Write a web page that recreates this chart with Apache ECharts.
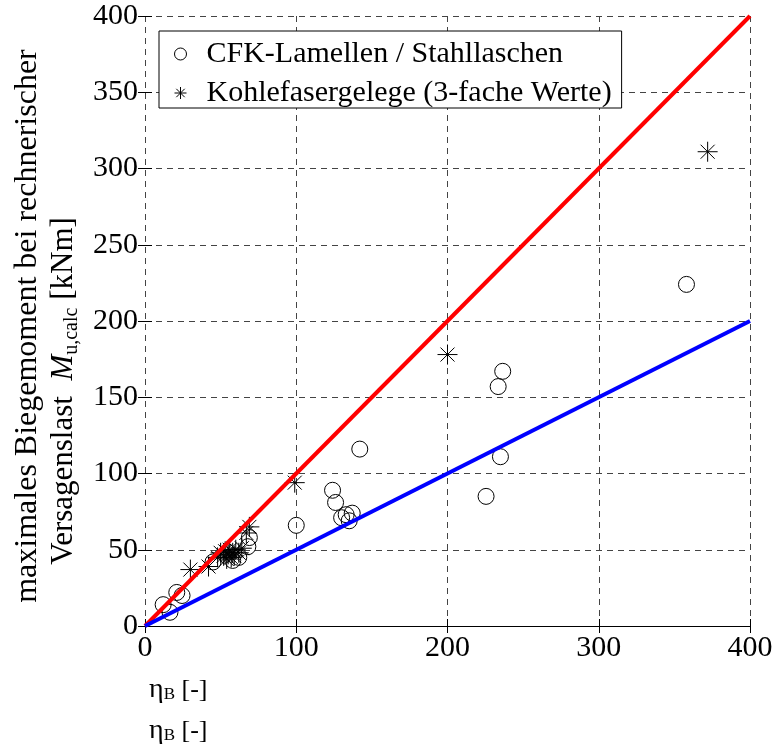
<!DOCTYPE html>
<html>
<head>
<meta charset="utf-8">
<script src="https://cdn.jsdelivr.net/npm/echarts@6/dist/echarts.min.js"></script>
<style>
  html, body { margin: 0; padding: 0; background: #fff; }
  #chart { width: 776px; height: 744px; }
</style>
</head>
<body>
<div id="chart"></div>
<script>
// Measured values: eta_B vs. M_u,calc
const cfkPoints = [
  [12, 14], [16.5, 9], [21, 22], [24.5, 20],
  [45, 42], [58, 43], [62, 45], [68, 52], [69, 58],
  [100, 66], [124, 89], [126, 81], [130, 71], [133, 73], [135, 69], [137, 74],
  [142, 116], [225.5, 85], [233.5, 157], [235, 111], [236.5, 167], [358, 224]
];
const gelegePoints = [
  [30, 37], [42, 39], [48, 45], [50, 48], [52, 46], [53, 49], [54, 44], [55, 47],
  [56, 50], [57, 45], [58, 48], [59, 46], [60, 50], [62, 48], [64, 51], [67, 61],
  [69, 65], [99, 94], [200, 178], [372, 311]
];
// Reference lines M = eta and M = eta / 2
const upperLine = [[0, 0], [400, 400]];
const lowerLine = [[0, 0], [400, 200]];

const xTicks = { min: 0, max: 400, interval: 100 };
const yTicks = { min: 0, max: 400, interval: 50 };

const seriesNames = ['CFK-Lamellen / Stahllaschen', 'Kohlefasergelege (3-fache Werte)'];

const SERIF = '"Liberation Serif", "DejaVu Serif", serif';
const starPath = 'path://M10,0L10,20M0,10L20,10M3,3L17,17M3,17L17,3';

const chart = echarts.init(document.getElementById('chart'), null, { renderer: 'canvas' });

const gridLine = { show: true, lineStyle: { color: '#444', type: [6, 5], width: 1 } };
const tickInside = { show: true, inside: true, length: 7, lineStyle: { color: '#000' } };

const etaLabel = (y) => ({
  type: 'text', x: 149, y: y,
  style: {
    text: '{e|η}{b|B}{n| [-]}',
    fontFamily: SERIF, fontSize: 26, fill: '#000',
    align: 'left', verticalAlign: 'middle',
    rich: {
      e: { fontFamily: SERIF, fontSize: 28, verticalAlign: 'middle' },
      b: { fontFamily: SERIF, fontSize: 17, verticalAlign: 'middle', padding: [9, 0, 0, 0] },
      n: { fontFamily: SERIF, fontSize: 26, verticalAlign: 'middle' }
    }
  }
});

chart.setOption({
  animation: false,
  backgroundColor: '#fff',
  grid: { left: 145, right: 26, top: 16, bottom: 118 },
  legend: {
    orient: 'vertical',
    left: 159, top: 31,
    padding: [8, 10, 0, 15],
    itemGap: 9,
    itemWidth: 42, itemHeight: 12,
    backgroundColor: '#fff',
    borderColor: '#000', borderWidth: 1, borderRadius: 0,
    textStyle: { fontFamily: SERIF, fontSize: 30, color: '#000', lineHeight: 26 },
    data: [
      { name: seriesNames[0], icon: 'circle', itemStyle: { color: 'transparent', borderColor: '#000', borderWidth: 1 } },
      { name: seriesNames[1], icon: starPath, itemStyle: { color: 'transparent', borderColor: '#000', borderWidth: 1 } }
    ]
  },
  xAxis: [{
    type: 'value', position: 'bottom',
    min: xTicks.min, max: xTicks.max, interval: xTicks.interval,
    axisLine: { show: true, lineStyle: { color: '#000', width: 1 } },
    axisTick: tickInside,
    axisLabel: { fontFamily: SERIF, fontSize: 30, color: '#000', margin: 7 },
    splitLine: gridLine
  }, {
    type: 'value', position: 'top',
    min: xTicks.min, max: xTicks.max, interval: xTicks.interval,
    axisLine: { show: false }, axisTick: tickInside,
    axisLabel: { show: false }, splitLine: { show: false }
  }],
  yAxis: [{
    type: 'value', position: 'left',
    min: yTicks.min, max: yTicks.max, interval: yTicks.interval,
    axisLine: { show: false },
    axisTick: tickInside,
    axisLabel: { fontFamily: SERIF, fontSize: 30, color: '#000', margin: 7 },
    splitLine: gridLine
  }, {
    type: 'value', position: 'right',
    min: yTicks.min, max: yTicks.max, interval: yTicks.interval,
    axisLine: { show: false }, axisTick: tickInside,
    axisLabel: { show: false }, splitLine: { show: false }
  }],
  series: [
    {
      name: seriesNames[0], type: 'scatter', data: cfkPoints,
      symbol: 'circle', symbolSize: 16,
      itemStyle: { color: 'transparent', borderColor: '#000', borderWidth: 1, opacity: 1 },
      z: 2
    },
    {
      name: seriesNames[1], type: 'scatter', data: gelegePoints,
      symbol: starPath, symbolSize: 20,
      itemStyle: { color: 'transparent', borderColor: '#000', borderWidth: 1, opacity: 1 },
      z: 2
    },
    {
      type: 'line', data: upperLine, symbol: 'none', silent: true,
      lineStyle: { color: '#ff0000', width: 4 }, z: 3
    },
    {
      type: 'line', data: lowerLine, symbol: 'none', silent: true,
      lineStyle: { color: '#0000ff', width: 4 }, z: 3
    }
  ],
  graphic: [
    {
      type: 'text', x: 28, y: 326, rotation: Math.PI / 2,
      style: {
        text: 'maximales Biegemoment bei rechnerischer',
        fontFamily: SERIF, fontSize: 32, fill: '#000',
        align: 'center', verticalAlign: 'middle'
      }
    },
    {
      type: 'text', x: 64, y: 391, rotation: Math.PI / 2,
      style: {
        text: '{n|Versagenslast  }{m|M}{s|u,calc}{n| [kNm]}',
        fontFamily: SERIF, fontSize: 31, fill: '#000',
        align: 'center', verticalAlign: 'middle',
        rich: {
          n: { fontFamily: SERIF, fontSize: 31, verticalAlign: 'middle' },
          m: { fontFamily: SERIF, fontSize: 31, fontStyle: 'italic', verticalAlign: 'middle' },
          s: { fontFamily: SERIF, fontSize: 20, verticalAlign: 'middle', padding: [15, 0, 0, 0] }
        }
      }
    },
    etaLabel(690),
    etaLabel(731)
  ]
});
</script>
</body>
</html>
